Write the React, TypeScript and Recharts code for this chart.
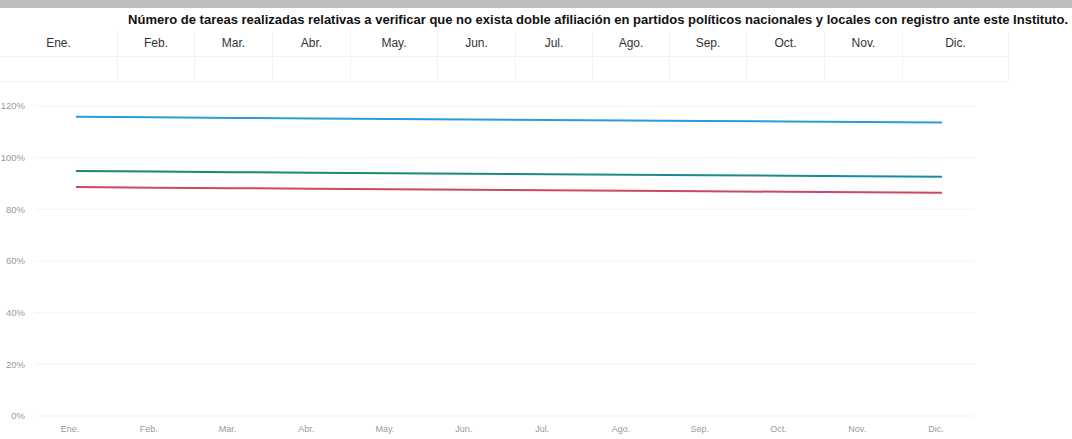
import { LineChart, Line, XAxis, YAxis, CartesianGrid } from "recharts";

const months = ["Ene.", "Feb.", "Mar.", "Abr.", "May.", "Jun.", "Jul.", "Ago.", "Sep.", "Oct.", "Nov.", "Dic."];
const headerWidths = [117, 76, 77, 77, 86, 77, 76, 76, 76, 77, 77, 105];

const serieAzul = [115.8, 115.6, 115.4, 115.2, 115.0, 114.8, 114.6, 114.4, 114.2, 114.0, 113.8, 113.6];
const serieVerde = [94.8, 94.6, 94.4, 94.2, 94.0, 93.8, 93.6, 93.4, 93.2, 93.0, 92.8, 92.6];
const serieRoja = [88.6, 88.4, 88.2, 88.0, 87.8, 87.6, 87.4, 87.2, 87.0, 86.8, 86.6, 86.4];
const yTicks = [0, 20, 40, 60, 80, 100, 120];

const data = months.map((m, i) => ({
  mes: m,
  azul: serieAzul[i],
  verde: serieVerde[i],
  roja: serieRoja[i],
}));

const title =
  "Número de tareas realizadas relativas a verificar que no exista doble afiliación en partidos políticos nacionales y locales con registro ante este Instituto.";

export default function App() {
  return (
    <div
      style={{
        position: "absolute",
        left: 0,
        top: 0,
        width: 1072,
        height: 439,
        background: "#fff",
        overflow: "hidden",
        fontFamily: "'Liberation Sans', Arial, sans-serif",
      }}
    >
      <div style={{ position: "absolute", left: 0, top: 0, width: 1072, height: 8, background: "#bdbdbd" }} />
      <div
        style={{
          position: "absolute",
          left: 0,
          top: 12,
          width: 1072,
          textAlign: "right",
          paddingRight: 4,
          boxSizing: "border-box",
          fontSize: 13,
          fontWeight: "bold",
          color: "#111",
          whiteSpace: "nowrap",
        }}
      >
        {title}
      </div>
      <table
        style={{
          position: "absolute",
          left: 0,
          top: 31,
          borderCollapse: "collapse",
          tableLayout: "fixed",
          fontSize: 12,
          color: "#333",
        }}
      >
        <tbody>
          <tr style={{ height: 25 }}>
            {months.map((m, i) => (
              <td
                key={m}
                style={{
                  width: headerWidths[i],
                  textAlign: "center",
                  borderRight: "1px solid #f2f2f2",
                  borderBottom: "1px solid #f2f2f2",
                  padding: 0,
                }}
              >
                {m}
              </td>
            ))}
          </tr>
          <tr style={{ height: 25 }}>
            {months.map((m, i) => (
              <td
                key={m}
                style={{ width: headerWidths[i], borderRight: "1px solid #f2f2f2", borderBottom: "1px solid #f2f2f2", padding: 0 }}
              />
            ))}
          </tr>
        </tbody>
      </table>
      <div style={{ position: "absolute", left: 0, top: 90 }}>
        <LineChart width={1072} height={349} data={data} margin={{ top: 16, right: 97, bottom: 3, left: 0 }}>
          <defs>
            <linearGradient id="verdeGrad" x1="0" y1="0" x2="1" y2="0">
              <stop offset="0%" stopColor="#1d8a55" />
              <stop offset="100%" stopColor="#1b8aa6" />
            </linearGradient>
          </defs>
          <CartesianGrid vertical={false} stroke="#f3f3f3" />
          <XAxis
            dataKey="mes"
            padding={{ left: 41, right: 33 }}
            axisLine={false}
            tickLine={false}
            tick={{ fontSize: 9, fill: "#9a9a9a", dx: -6 }}
            height={20}
            tickMargin={4}
            interval={0}
          />
          <YAxis
            domain={[0, 120]}
            ticks={yTicks}
            tickFormatter={(v) => `${v}%`}
            axisLine={false}
            tickLine={false}
            tick={{ fontSize: 9.5, fill: "#9a9a9a" }}
            width={35}
            tickMargin={4}
          />
          <Line type="linear" dataKey="azul" stroke="#2b9bd8" strokeWidth={2} dot={false} isAnimationActive={false} />
          <Line type="linear" dataKey="verde" stroke="url(#verdeGrad)" strokeWidth={2} dot={false} isAnimationActive={false} />
          <Line type="linear" dataKey="roja" stroke="#c94a62" strokeWidth={2} dot={false} isAnimationActive={false} />
        </LineChart>
      </div>
    </div>
  );
}
